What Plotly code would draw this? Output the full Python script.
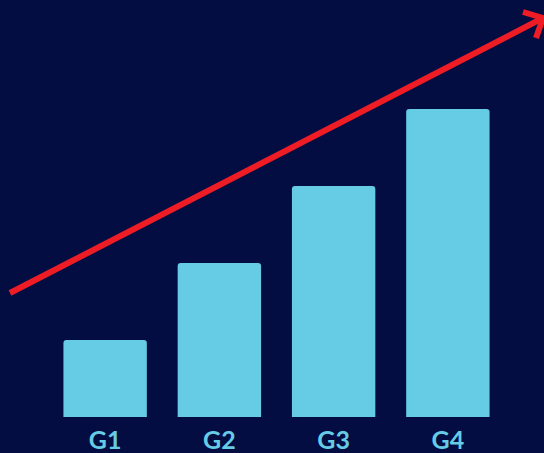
import plotly.graph_objects as go

categories = ["G1", "G2", "G3", "G4"]
values = [1, 2, 3, 4]

BG = "#030d42"
BAR = "#66cbe5"
RED = "#ee1c25"

W, H = 544, 453
L, R, T, B = 48, 39, 32, 36
pw, ph = W - L - R, H - T - B

def px(x, y):
    return (x - L) / pw, (H - B - y) / ph

fig = go.Figure(go.Bar(
    x=categories, y=values,
    marker=dict(color=BAR, cornerradius=3, line=dict(width=0)),
    hoverinfo="skip",
))

# arrow (decoration)
x0, y0 = px(10, 293)
x1, y1 = px(543, 18)
ua = px(523, 12)
la = px(536, 38)
fig.add_shape(type="line", xref="paper", yref="paper", x0=x0, y0=y0, x1=x1, y1=y1,
              line=dict(color=RED, width=6))
fig.add_shape(type="path", xref="paper", yref="paper",
              path=f"M {ua[0]} {ua[1]} L {x1} {y1} L {la[0]} {la[1]}",
              line=dict(color=RED, width=6))

fig.update_layout(
    width=W, height=H,
    margin=dict(l=L, r=R, t=T, b=B, autoexpand=False),
    paper_bgcolor=BG, plot_bgcolor=BG,
    bargap=0.27,
    showlegend=False,
    xaxis=dict(range=[-0.5, 3.5], showgrid=False, zeroline=False, showline=False,
               automargin=False,
               ticks="outside", ticklen=1, tickcolor=BG,
               tickfont=dict(family="Lato", size=25, color=BAR, weight=700)),
    yaxis=dict(range=[0, 5], visible=False, showgrid=False, zeroline=False,
               automargin=False),
)

fig.write_html("out.html", config={"displayModeBar": False},
               post_script="document.body.style.margin='0';document.body.style.overflow='hidden';document.body.style.background='" + BG + "';")
